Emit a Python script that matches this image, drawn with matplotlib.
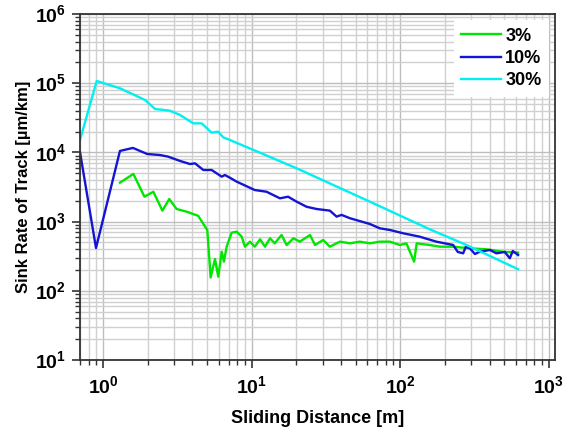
import matplotlib
matplotlib.use("Agg")
import matplotlib.pyplot as plt
from matplotlib.ticker import FixedLocator, FixedFormatter, LogLocator, NullFormatter

plt.rcParams['font.family'] = ['Liberation Sans', 'DejaVu Sans']
plt.rcParams['font.weight'] = 'bold'
plt.rcParams['mathtext.fontset'] = 'custom'
plt.rcParams['mathtext.rm'] = 'Liberation Sans'
plt.rcParams['mathtext.bf'] = 'Liberation Sans:bold'

# ---- data ----
x30 = [0.700, 0.907, 1.30, 1.59, 1.92, 2.24, 2.82, 3.30, 4.05, 4.61, 5.38, 5.96,
       6.44, 7.15, 20.1, 62.5, 158, 279, 621]
y30 = [15100, 107700, 84400, 69200, 57100, 42400, 40100, 34700, 26300, 26300, 19300,
       19900, 16500, 15100, 5890, 1940, 774, 459, 205]

x10 = [0.700, 0.897, 1.30, 1.59, 1.98, 2.42, 2.75, 3.30, 3.85, 4.16, 4.73, 5.38,
       6.29, 6.61, 7.15, 7.93, 10.5, 12.6, 15.5, 17.6, 20.1, 23.4, 27.4, 33.6,
       37.3, 40.3, 45.8, 62.5, 72.9, 85.1, 105, 135, 175, 227, 244, 265, 276,
       294, 318, 343, 401, 444, 505, 546, 572, 621]
y10 = [10100, 415, 10500, 11600, 9490, 9160, 8670, 7520, 6790, 6950, 5570, 5570,
       4460, 4710, 4300, 3780, 2860, 2700, 2170, 2290, 1940, 1640, 1520, 1440,
       1180, 1250, 1120, 923, 800, 757, 677, 606, 513, 459, 364, 348, 430,
       411, 340, 367, 389, 348, 364, 295, 376, 329]

x3 = [1.30, 1.60, 1.90, 2.18, 2.51, 2.79, 3.13, 3.66, 4.37, 5.03, 5.30, 5.67,
      5.96, 6.29, 6.51, 6.79, 7.34, 7.93, 8.57, 9.02, 9.74, 10.5, 11.4, 12.3,
      13.3, 14.3, 15.9, 17.2, 19.1, 21.1, 24.7, 26.7, 30.3, 33.6, 39.3, 45.8,
      53.5, 62.5, 72.9, 85.1, 99.4, 110, 124, 129, 158, 185, 227, 294, 380,
      492, 621]
y3 = [3650, 4880, 2290, 2700, 1440, 2120, 1520, 1390, 1210, 757, 156, 288,
      160, 367, 264, 434, 692, 715, 606, 434, 513, 434, 555, 434,
      574, 485, 640, 459, 574, 513, 640, 459, 542, 434, 513, 485,
      513, 485, 513, 513, 459, 485, 264, 485, 459, 434, 434, 411, 398,
      367, 356]

labels = ['3%', '10%', '30%']
colors = ['#00E600', '#1414D2', '#00F0F0']

xticks = [1, 10, 100, 1000]
xticklabels = [r'$\mathbf{10}^{0}$', r'$\mathbf{10}^{1}$', r'$\mathbf{10}^{2}$', r'$\mathbf{10}^{3}$']
yticks = [10, 100, 1000, 10000, 100000, 1000000]
yticklabels = [r'$\mathbf{10}^{1}$', r'$\mathbf{10}^{2}$', r'$\mathbf{10}^{3}$',
               r'$\mathbf{10}^{4}$', r'$\mathbf{10}^{5}$', r'$\mathbf{10}^{6}$']

fig = plt.figure(figsize=(5.64, 4.32), dpi=100)
ax = fig.add_axes([80/564, 1-360/432, (555-80)/564, (360-14)/432])

for xs, ys, c, lab in zip([x3, x10, x30], [y3, y10, y30], colors, labels):
    ax.plot(xs, ys, color=c, lw=1.7, label=lab)

ax.set_xscale('log')
ax.set_yscale('log')
ax.set_xlim(0.7, 1100)
ax.set_ylim(10, 1e6)

ax.xaxis.set_major_locator(FixedLocator(xticks))
ax.xaxis.set_major_formatter(FixedFormatter(xticklabels))
ax.yaxis.set_major_locator(FixedLocator(yticks))
ax.yaxis.set_major_formatter(FixedFormatter(yticklabels))
ax.xaxis.set_minor_locator(LogLocator(base=10, subs=range(2, 10), numticks=20))
ax.yaxis.set_minor_locator(LogLocator(base=10, subs=range(2, 10), numticks=20))
ax.xaxis.set_minor_formatter(NullFormatter())
ax.yaxis.set_minor_formatter(NullFormatter())

ax.grid(True, which='major', color='#BDBDBD', lw=1.0)
ax.grid(True, which='minor', color='#D0D0D0', lw=1.0)
ax.set_axisbelow(True)

ax.tick_params(which='major', direction='out', length=6, width=1.2, labelsize=14,
               colors='#333333', labelcolor='black')
ax.tick_params(which='minor', direction='out', length=3.5, width=1.0, colors='#333333')
ax.tick_params(axis='x', which='major', pad=5)
ax.tick_params(axis='y', which='major', pad=4)
for s in ax.spines.values():
    s.set_color('#333333')
    s.set_linewidth(1.3)

ax.set_xlabel('Sliding Distance [m]', fontsize=13, fontweight='bold', labelpad=9)
ax.set_ylabel('Sink Rate of Track [µm/km]', fontsize=12, fontweight='bold', labelpad=3)

leg = ax.legend(loc='upper right', frameon=True, fancybox=False, edgecolor='white',
                framealpha=1.0, handlelength=2.2, handletextpad=0.25,
                labelspacing=0.3, borderaxespad=0.35, prop={'weight': 'bold', 'size': 13})
leg.get_frame().set_linewidth(0)

fig.savefig('out.png', dpi=100)
